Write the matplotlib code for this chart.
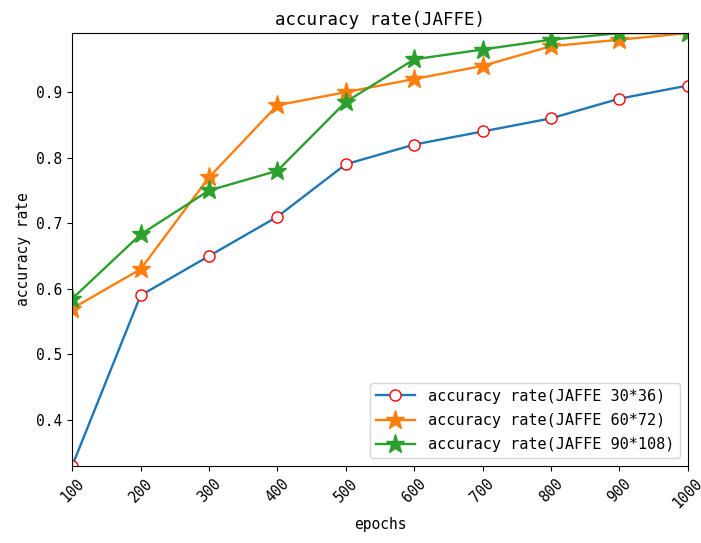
import numpy as np
import matplotlib
matplotlib.use("Agg")
import matplotlib.pyplot as plt

plt.rcParams['font.family'] = ['DejaVu Sans Mono']
plt.rcParams['font.size'] = 10.5

epochs = [100, 200, 300, 400, 500, 600, 700, 800, 900, 1000]
acc_30x36 = [0.33, 0.59, 0.65, 0.71, 0.79, 0.82, 0.84, 0.86, 0.89, 0.91]
acc_60x72 = [0.57, 0.63, 0.77, 0.88, 0.90, 0.92, 0.94, 0.97, 0.98, 0.99]
acc_90x108 = [0.585, 0.683, 0.75, 0.78, 0.885, 0.95, 0.965, 0.98, 0.99, 0.99]

fig = plt.figure(figsize=(7.01, 5.43), dpi=100)
ax = fig.add_axes([0.103, 0.142, 0.878, 0.797])

ax.plot(epochs, acc_30x36, color='tab:blue', marker='o', markersize=8,
        markerfacecolor='white', markeredgecolor='red', linewidth=1.7,
        label='accuracy rate(JAFFE 30*36)')
ax.plot(epochs, acc_60x72, color='tab:orange', marker='*', markersize=14,
        linewidth=1.7, label='accuracy rate(JAFFE 60*72)')
ax.plot(epochs, acc_90x108, color='tab:green', marker='*', markersize=14,
        linewidth=1.7, label='accuracy rate(JAFFE 90*108)')

ax.set_xlim(100, 1000)
ax.set_ylim(0.33, 0.99)
ax.set_xticks(epochs)
ax.set_xticklabels([str(e) for e in epochs], rotation=45)
ax.tick_params(labelsize=10.5)
ax.set_xlabel('epochs')
ax.set_ylabel('accuracy rate')
ax.set_title('accuracy rate(JAFFE)', pad=6)
ax.legend(loc='lower right', fontsize=11, handlelength=2.6, labelspacing=0.6)

fig.savefig('out.png', dpi=100)
